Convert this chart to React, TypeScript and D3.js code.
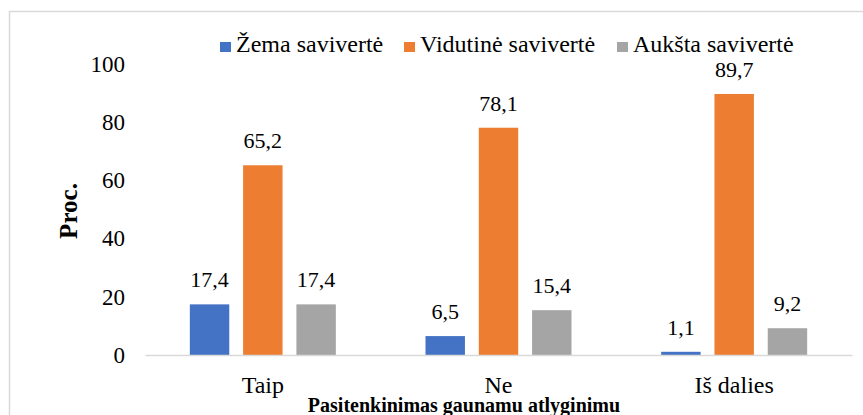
import { useEffect, useRef } from 'react';
import * as d3 from 'd3';

const categories = ['Taip', 'Ne', 'Iš dalies'];
const seriesNames = ['Žema savivertė', 'Vidutinė savivertė', 'Aukšta savivertė'];
const zema = [17.4, 6.5, 1.1];
const vidutine = [65.2, 78.1, 89.7];
const auksta = [17.4, 15.4, 9.2];
const yTicks = [0, 20, 40, 60, 80, 100];
const colors = ['#4472C4', '#ED7D31', '#A5A5A5'];

const W = 863;
const H = 415;
const font = "'Liberation Serif', 'Times New Roman', serif";

const App = () => {
  const ref = useRef<SVGSVGElement>(null);

  useEffect(() => {
    const svg = d3.select(ref.current);
    svg.selectAll('*').remove();

    const series = [zema, vidutine, auksta];
    const left = 145;
    const right = 852;
    const top = 64;
    const bottom = 355;

    // chart frame (cropped on right and bottom)
    svg.append('path')
      .attr('d', `M9.5,${H} L9.5,11.5 L${W},11.5`)
      .attr('fill', 'none')
      .attr('stroke', '#d9d9d9')
      .attr('stroke-width', 1.5);

    const x = d3.scaleBand().domain(categories).range([left, right]);
    const inner = d3.scaleBand()
      .domain(seriesNames)
      .range([x.bandwidth() / 2 - 73, x.bandwidth() / 2 + 73])
      .paddingInner(0.26);
    const y = d3.scaleLinear().domain([0, 100]).range([bottom, top]);

    // y axis labels
    const yAxis = svg.append('g')
      .attr('transform', `translate(${left - 20},0)`)
      .call(d3.axisLeft(y).tickValues(yTicks).tickSize(0).tickPadding(0).tickFormat(d3.format('d')));
    yAxis.attr('font-family', null).attr('font-size', null);
    yAxis.select('.domain').remove();
    yAxis.selectAll('text')
      .style('font-size', '23px')
      .attr('fill', '#000');

    // bars
    series.forEach((vals, si) => {
      const g = svg.append('g');
      g.selectAll('rect')
        .data(vals)
        .join('rect')
        .attr('x', (_, i) => (x(categories[i]) ?? 0) + (inner(seriesNames[si]) ?? 0))
        .attr('y', (d) => y(d))
        .attr('width', inner.bandwidth())
        .attr('height', (d) => y(0) - y(d))
        .attr('fill', colors[si]);
      g.selectAll('text')
        .data(vals)
        .join('text')
        .attr('x', (_, i) => (x(categories[i]) ?? 0) + (inner(seriesNames[si]) ?? 0) + inner.bandwidth() / 2)
        .attr('y', (d) => y(d) - 17)
        .attr('text-anchor', 'middle')
        .style('font-size', '22px')
        .text((d) => d.toFixed(1).replace('.', ','));
    });

    // x axis
    const xAxis = svg.append('g')
      .attr('transform', `translate(0,${bottom})`)
      .call(d3.axisBottom(x).tickSize(0).tickPadding(0));
    xAxis.attr('font-family', null).attr('font-size', null);
    xAxis.select('.domain')
      .attr('stroke', '#d9d9d9')
      .attr('stroke-width', 1.3);
    xAxis.selectAll('text')
      .attr('y', 38)
      .attr('dy', null)
      .style('font-size', '24px')
      .attr('fill', '#000');

    // axis titles
    svg.append('text')
      .attr('transform', 'translate(77,211) rotate(-90)')
      .attr('text-anchor', 'middle')
      .style('font-size', '25px')
      .style('font-weight', 'bold')
      .text('Proc.');
    svg.append('text')
      .attr('x', 464)
      .attr('y', 412)
      .attr('text-anchor', 'middle')
      .style('font-size', '20px')
      .style('font-weight', 'bold')
      .text('Pasitenkinimas gaunamu atlyginimu');

    // legend
    const legendX = [220, 404, 617];
    seriesNames.forEach((name, i) => {
      svg.append('rect')
        .attr('x', legendX[i])
        .attr('y', 42)
        .attr('width', 11)
        .attr('height', 10)
        .attr('fill', colors[i]);
      svg.append('text')
        .attr('x', legendX[i] + 16)
        .attr('y', 52)
        .style('font-size', '24px')
        .text(name);
    });
  }, []);

  return (
    <svg
      ref={ref}
      width={W}
      height={H}
      style={{ position: 'absolute', left: 0, top: 0, background: '#fff', fontFamily: font }}
    />
  );
};

export default App;
